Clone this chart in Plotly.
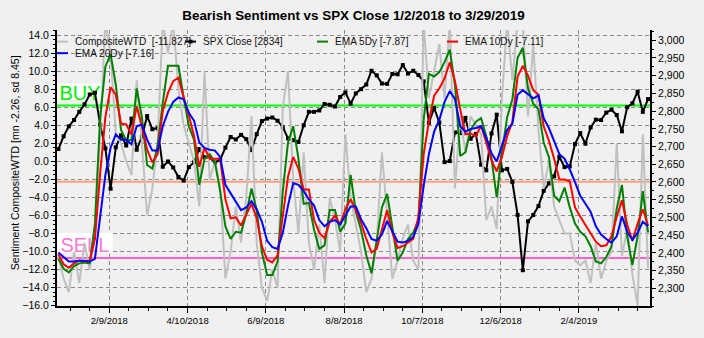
import pandas as pd
import plotly.graph_objects as go

# ---------------- data (sampled every 4 calendar days) ----------------
dates = pd.date_range(end="2019-03-29", periods=114, freq="4D")

composite_wtd = [
    -10.5, -13.0, -14.5, -10.0, -13.5, -9.0, -12.0, -8.0, 3.0, 15.5, 12.0, 3.0, 2.0, 0.0,
    -1.5, 9.0, 2.0, -6.0, -3.0, 2.0, 15.5, 12.0, 15.5, 8.0, 4.0, 2.0, 0.0, -5.0, 10.0, -2.0,
    0.0, -3.0, -13.0, -10.0, -5.0, -9.0, -4.0, 5.0, -9.0, -14.0, -15.5, -12.0, -14.0, 6.0,
    10.0, -2.0, -8.0, 1.0, -9.0, -12.0, -7.0, -13.5, -4.0, -6.5, -10.0, 3.0,
    -4.0, -7.0, -10.0, -14.5, -13.0, -9.0, 1.0, -6.0, -13.0, -11.0, -8.5, -7.0, -11.0, -12.0,
    15.5, 7.0, 10.0, 13.0, 7.0, 15.5, -3.0, 5.0, 1.0, 5.0, 4.0, 3.0, -6.5, -5.0, -7.5, 7.0,
    15.5, 9.0, 15.5, 15.5, 5.0, 13.0, 3.5, -3.0, 0.0, -5.0, -6.5, -8.0, -8.0, -11.0, -11.5,
    -11.0, -13.5, -9.0, -13.0, -11.0, -10.0, 2.0, -10.5, -7.5, -12.5, -16.0, 3.0, -11.827,
]

spx_close = [
    2693, 2729, 2757, 2775, 2798, 2819, 2847, 2852,
    2762, 2695, 2581, 2698, 2732, 2703, 2779,
    2691, 2728, 2786, 2749, 2752, 2643, 2658, 2641,
    2614, 2604, 2642, 2656, 2693, 2670, 2670,
    2655, 2663, 2697, 2727, 2720, 2733, 2721, 2690,
    2735, 2772, 2779, 2782, 2773, 2755, 2723, 2718,
    2713, 2760, 2798, 2798, 2802, 2820, 2818,
    2813, 2840, 2853, 2821, 2850, 2862, 2875, 2914,
    2901, 2878, 2877, 2905, 2904, 2930, 2906, 2914,
    2902, 2884, 2767, 2809, 2768, 2656, 2659,
    2740, 2738, 2781, 2722, 2736, 2649, 2633, 2737,
    2790, 2633, 2637, 2600, 2507, 2351, 2489, 2507,
    2532, 2575, 2596, 2616, 2671, 2642, 2644,
    2707, 2738, 2708, 2754, 2776, 2775, 2796,
    2804, 2789, 2743, 2811, 2822, 2855, 2798, 2834,
]

ema_5dy = [
    -10.8, -11.9, -12.3, -11.6, -11.3, -11.2, -11.3, -6.9, 4.9, 10.5, 11.9, 8.5, 3.5, 2.3,
    2.4, 8.1, 4.9, -0.4, -0.8, 1.7, 6.5, 10.6, 10.6, 10.6, 7.1, 3.9, 2.4, -2.6, 0.3, 0.8,
    -0.1, -3.3, -7.2, -8.6, -7.8, -7.9, -5.8, -3.0, -5.4, -10.1, -12.6, -12.6, -11.1, -3.3,
    2.1, 3.9, 0.3, -4.7, -4.6, -7.6, -9.7, -9.3, -5.4, -5.4, -7.8, -6.9,
    -1.5, -5.6, -7.6, -10.4, -12.4, -8.6, -5.1, -3.6, -7.4, -11.0, -10.1, -8.6, -7.9, -6.5,
    4.6, 9.7, 9.4, 9.9, 11.0, 12.4, 8.5, 0.6, 1.0, 3.5, 4.4, 4.8, 2.8, 0.3, -4.0, 1.0,
    4.9, 6.9, 11.5, 12.6, 8.1, 6.4, 5.8, 2.1, 0.5, -3.8, -4.4, -2.9, -5.1, -6.9, -7.8,
    -8.3, -9.4, -11.1, -11.3, -10.6, -9.4, -5.2, -2.6, -8.3, -11.5, -8.3, -3.3, -7.87,
]

ema_10dy = [
    -10.3, -11.4, -11.8, -11.3, -11.0, -11.1, -11.0, -8.6, -1.3, 4.9, 8.2, 7.4, 4.2, 4.1,
    3.0, 6.1, 3.9, 1.3, -0.1, 0.8, 5.6, 7.6, 8.9, 9.3, 7.1, 5.1, 2.8, -0.6, 1.5, 0.3,
    0.3, 0.3, -4.2, -6.3, -6.2, -7.1, -5.9, -4.7, -6.3, -9.4, -10.9, -11.2, -10.4, -5.8,
    -1.7, 0.5, -0.8, -3.1, -3.1, -6.5, -7.9, -8.5, -6.7, -6.0, -7.0, -5.3,
    -4.2, -5.4, -6.8, -8.6, -10.1, -9.7, -7.4, -5.4, -7.9, -9.6, -9.4, -9.0, -8.6, -6.1,
    0.8, 4.4, 7.3, 8.1, 9.2, 11.0, 8.9, 5.8, 3.0, 3.1, 2.8, 4.0, 2.1, 0.1, -1.1, 0.5,
    2.8, 4.4, 9.4, 10.6, 9.5, 7.9, 7.4, 3.9, 2.3, 0.3, -2.0, -2.0, -2.2, -5.1, -6.1,
    -7.0, -7.9, -8.9, -9.4, -9.3, -8.3, -6.1, -4.3, -7.0, -8.8, -6.9, -5.3, -7.11,
]

ema_20dy = [
    -10.1, -10.6, -11.1, -11.1, -11.0, -11.0, -11.1, -10.8, -6.1, -1.5, 1.5, 3.0, 2.4, 2.4,
    1.9, 3.9, 4.1, 2.4, 1.2, 1.2, 3.9, 5.5, 6.6, 7.1, 6.9, 5.4, 4.5, 2.1, 1.5, 1.3,
    1.2, 0.5, -2.6, -3.5, -4.5, -5.4, -5.1, -4.4, -5.3, -6.7, -8.8, -9.5, -9.7, -7.9,
    -4.9, -2.4, -2.6, -3.3, -4.2, -4.9, -6.5, -7.2, -6.7, -6.5, -7.0, -6.0,
    -5.0, -5.0, -6.4, -7.4, -8.6, -8.8, -8.1, -6.6, -7.8, -8.9, -9.0, -8.8, -8.4, -6.9,
    -2.7, 0.8, 3.3, 4.6, 6.6, 7.8, 6.9, 3.9, 3.3, 3.6, 3.7, 3.9, 2.6, 0.9, 0.0, 1.8,
    3.5, 4.2, 7.4, 7.9, 7.4, 7.0, 7.3, 4.8, 3.7, 2.3, 0.8, 0.3, -0.9, -2.3, -3.8,
    -4.7, -5.6, -7.2, -8.1, -8.6, -9.0, -8.3, -6.1, -7.8, -8.7, -7.9, -6.7, -7.16,
]

sent_mean = -2.26
sent_sd = 8.45
buy_level = sent_mean + sent_sd
sell_level = sent_mean - sent_sd

x_tick_dates = ["2018-02-09", "2018-04-10", "2018-06-09", "2018-08-08",
                "2018-10-07", "2018-12-06", "2019-02-04"]
x_tick_labels = ["2/9/2018", "4/10/2018", "6/9/2018", "8/8/2018",
                 "10/7/2018", "12/6/2018", "2/4/2019"]
x_minor_dates = [d.strftime("%Y-%m-%d") for d in pd.date_range("2017-12-26", "2019-03-30", freq="15D")]
left_ticks = list(range(-16, 15, 2))
right_ticks = list(range(2300, 3001, 50))

# ---------------- styling ----------------
SENT_RANGE = [-16.03, 14.57]
SPX_RANGE = [2250, 3029]
X_RANGE = ["2017-12-30 22:00", "2019-03-30 12:00"]
FONT = "Liberation Sans, Arial, sans-serif"
W, H = 704, 338
ML, MR, MT, MB = 57, 54, 30, 22
PW, PH = W - ML - MR, H - MT - MB

GRAY, GREEN, RED, BLUE = "#c0c0c0", "#008000", "#ff0000", "#0000ff"


def sent_to_spx(v):
    return SPX_RANGE[0] + (v - SENT_RANGE[0]) * (SPX_RANGE[1] - SPX_RANGE[0]) / (SENT_RANGE[1] - SENT_RANGE[0])


def px_x(x):
    return (x - ML) / PW


def px_y(y):
    return (H - MB - y) / PH


fig = go.Figure()

fig.add_trace(go.Scatter(x=dates, y=spx_close, name="SPX Close", mode="lines+markers",
                         line=dict(color="black", width=2),
                         marker=dict(symbol="square", size=4, color="black"),
                         yaxis="y"))
fig.add_trace(go.Scatter(x=dates, y=composite_wtd, name="CompositeWTD", mode="lines",
                         line=dict(color=GRAY, width=2), yaxis="y2"))
fig.add_trace(go.Scatter(x=dates, y=ema_5dy, name="EMA 5Dy", mode="lines",
                         line=dict(color=GREEN, width=2), yaxis="y2"))
fig.add_trace(go.Scatter(x=dates, y=ema_10dy, name="EMA 10Dy", mode="lines",
                         line=dict(color=RED, width=2), yaxis="y2"))
fig.add_trace(go.Scatter(x=dates, y=ema_20dy, name="EMA 20Dy", mode="lines",
                         line=dict(color=BLUE, width=2), yaxis="y2"))

shapes = []
# reference levels (drawn between gridlines and data)
for lvl, col in [(buy_level, "#00ff00"), (sent_mean, "#ffa07a"), (sell_level, "#ff5ecb")]:
    shapes.append(dict(type="line", xref="x", yref="y", x0=X_RANGE[0], x1=X_RANGE[1],
                       y0=sent_to_spx(lvl), y1=sent_to_spx(lvl),
                       line=dict(color=col, width=2), layer="between"))
# BUY / SELL labels
shapes.append(dict(type="rect", xref="x", yref="y", x0=X_RANGE[0], x1="2018-02-04 05:00",
                   y0=sent_to_spx(6.85), y1=sent_to_spx(8.67), fillcolor="white",
                   line=dict(width=0), layer="between",
                   label=dict(text="BUY", font=dict(size=20, color="#00ee00", family=FONT),
                              textposition="middle center")))
shapes.append(dict(type="rect", xref="x", yref="y", x0=X_RANGE[0], x1="2018-02-11 15:00",
                   y0=sent_to_spx(-10.15), y1=sent_to_spx(-7.93), fillcolor="white",
                   line=dict(width=0), layer="between",
                   label=dict(text="SELL", font=dict(size=20, color="#ff77d0", family=FONT),
                              textposition="middle center")))

# custom legend
legend_items = [
    (f"CompositeWTD\u00a0 [{composite_wtd[-1]:.3f}]", GRAY, 57, 42, False),
    (f"SPX Close [{spx_close[-1]}]", "black", 185, 42, True),
    (f"EMA 5Dy [{ema_5dy[-1]:.2f}]", GREEN, 317, 42, False),
    (f"EMA 10Dy [{ema_10dy[-1]:.2f}]", RED, 447, 42, False),
    (f"EMA 20Dy [{ema_20dy[-1]:.2f}]", BLUE, 57, 54, False),
]
annotations = []
for text, col, x0, y0, mark in legend_items:
    shapes.append(dict(type="line", xref="paper", yref="paper", x0=px_x(x0), x1=px_x(x0 + 11),
                       y0=px_y(y0), y1=px_y(y0), line=dict(color=col, width=2), layer="above"))
    if mark:
        shapes.append(dict(type="rect", xref="paper", yref="paper", x0=px_x(x0 + 3.5),
                           x1=px_x(x0 + 7.5), y0=px_y(y0 + 2), y1=px_y(y0 - 2),
                           fillcolor="black", line=dict(width=0), layer="above"))
    annotations.append(dict(text=text, xref="paper", yref="paper", x=px_x(x0 + 16), y=px_y(y0),
                            xanchor="left", yanchor="middle", showarrow=False,
                            font=dict(size=10.1, color="#111111", family=FONT)))

annotations.append(dict(text=f"Sentiment CompositeWTD [mn {sent_mean:.2f}, sd {sent_sd:.2f}]",
                        xref="paper", yref="paper", x=px_x(15), y=px_y(168), textangle=-90,
                        xanchor="center", yanchor="middle", showarrow=False,
                        font=dict(size=10.5, color="black", family=FONT)))

axis_common = dict(showline=True, linecolor="black", linewidth=2, zeroline=False,
                   ticks="outside", tickcolor="black", tickfont=dict(size=10.5, color="black"))

fig.update_layout(
    width=W, height=H,
    margin=dict(l=ML, r=MR, t=MT, b=MB),
    paper_bgcolor="#f0f0f0", plot_bgcolor="#f0f0f0",
    showlegend=False,
    font=dict(family=FONT, color="black"),
    title=dict(text="<b>Bearish Sentiment vs SPX Close 1/2/2018 to 3/29/2019</b>",
               x=0.5, xref="paper", xanchor="center", y=1 - 15 / H, yref="container",
               yanchor="middle", font=dict(size=13.4, color="black", family=FONT)),
    xaxis=dict(type="date", range=X_RANGE, tickmode="array", tickvals=x_tick_dates,
               ticktext=x_tick_labels, ticklen=5, showgrid=True, gridcolor="#8a8a8a",
               griddash="4px,3px", gridwidth=1,
               minor=dict(tickmode="array", tickvals=x_minor_dates, ticks="outside",
                          ticklen=3, tickcolor="black", showgrid=False),
               **{**axis_common, "tickfont": dict(size=9.5, color="black")}),
    yaxis=dict(range=SPX_RANGE, side="right", tickmode="array", tickvals=right_ticks,
               tickformat=",d", ticklen=4, showgrid=False,
               minor=dict(dtick=25, tick0=2300, ticks="outside", ticklen=2,
                          tickcolor="black", showgrid=False),
               **axis_common),
    yaxis2=dict(range=SENT_RANGE, overlaying="y", side="left", tickmode="array",
                tickvals=left_ticks, tickformat=".1f", ticklen=4, showgrid=True,
                gridcolor="#8a8a8a", griddash="4px,3px", gridwidth=1,
                minor=dict(dtick=0.5, tick0=0, ticks="outside", ticklen=2,
                           tickcolor="black", showgrid=False),
                **axis_common),
    shapes=shapes,
    annotations=annotations,
)

fig.write_html("out.html")
